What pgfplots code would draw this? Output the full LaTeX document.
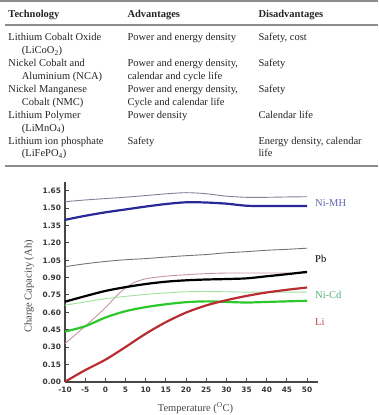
\documentclass[border=0pt]{standalone}
\usepackage{fontspec}
\setmainfont{Liberation Serif}
\newfontfamily\ticfont{DejaVu Sans}
\usepackage{pgfplots}
\pgfplotsset{compat=1.18}

\definecolor{rulegray}{RGB}{140,140,140}
\definecolor{txt}{RGB}{35,35,35}
\definecolor{axisgray}{RGB}{70,70,70}
\definecolor{ticktxt}{RGB}{55,55,55}
\definecolor{nimhthin}{RGB}{135,125,150}
\definecolor{nimh}{RGB}{40,40,150}
\definecolor{pbthin}{RGB}{115,115,125}
\definecolor{pink}{RGB}{195,150,160}
\definecolor{nicdthin}{RGB}{160,225,160}
\definecolor{nicd}{RGB}{45,200,45}
\definecolor{li}{RGB}{185,45,50}
\definecolor{lblnimh}{RGB}{100,100,175}
\definecolor{lblnicd}{RGB}{80,175,120}
\definecolor{lblli}{RGB}{185,70,75}

\begin{document}
\begin{tikzpicture}[x=1pt,y=1pt]
\useasboundingbox (0,0) rectangle (379,-415);

% ---- comparison table ----
\begin{scope}[every node/.style={anchor=base west, inner sep=0pt, text=txt,
    font=\fontsize{10.5}{12}\selectfont}]
  \draw[rulegray, line width=1.8pt] (0,-1) -- (378,-1);
  \draw[rulegray, line width=1.2pt] (5,-25) -- (378,-25);
  \draw[rulegray, line width=1.6pt] (5,-166) -- (378,-166);
  \node at (8.3,-17.5)   {\bfseries Technology};
  \node at (127.3,-17.5) {\bfseries Advantages};
  \node at (258.3,-17.5) {\bfseries Disadvantages};
  % rows
  \node at (8.3,-40.8)   {Lithium Cobalt Oxide};
  \node at (21.7,-53.7)  {(LiCoO\textsubscript{2})};
  \node at (127.3,-40.8) {Power and energy density};
  \node at (258.3,-40.8) {Safety, cost};
  \node at (8.3,-66.6)   {Nickel Cobalt and};
  \node at (21.7,-79.5)  {Aluminium (NCA)};
  \node at (127.3,-66.6) {Power and energy density,};
  \node at (127.3,-79.5) {calendar and cycle life};
  \node at (258.3,-66.6) {Safety};
  \node at (8.3,-92.4)   {Nickel Manganese};
  \node at (21.7,-105.3) {Cobalt (NMC)};
  \node at (127.3,-92.4) {Power and energy density,};
  \node at (127.3,-105.3){Cycle and calendar life};
  \node at (258.3,-92.4) {Safety};
  \node at (8.3,-118.2)  {Lithium Polymer};
  \node at (21.7,-131.1) {(LiMnO\textsubscript{4})};
  \node at (127.3,-118.2){Power density};
  \node at (258.3,-118.2){Calendar life};
  \node at (8.3,-144.0)  {Lithium ion phosphate};
  \node at (21.7,-156.9) {(LiFePO\textsubscript{4})};
  \node at (127.3,-144.0){Safety};
  \node at (258.3,-144.0){Energy density, calendar};
  \node at (258.3,-156.9){life};
\end{scope}

% ---- charge capacity vs temperature ----
\begin{axis}[
  at={(65pt,-381.7pt)}, anchor=south west,
  scale only axis, width=253pt, height=200pt,
  xmin=-10, xmax=52.7, ymin=0, ymax=1.73,
  axis lines=left,
  axis line style={-, line width=1.6pt, color=axisgray},
  xtick={-10,-5,0,5,10,15,20,25,30,35,40,45,50},
  ytick={0,0.15,0.30,0.45,0.60,0.75,0.90,1.05,1.20,1.35,1.50,1.65},
  tick align=inside, major tick length=4pt,
  tick style={line width=1pt, color=axisgray},
  /pgf/number format/assume math mode=true,
  ticklabel style={font=\ticfont\bfseries\fontsize{7.4}{8}\selectfont, text=ticktxt},
  yticklabel style={xshift=-0.5pt, /pgf/number format/.cd, fixed, fixed zerofill, precision=2},
  xticklabel style={yshift=-1.5pt, /pgf/number format/.cd, fixed},
  clip=false,
  every axis plot/.append style={smooth, no marks},
]
% Ni-MH
\addplot[nimhthin, line width=0.9pt] coordinates {(-10,1.557) (-5,1.572) (0,1.584) (5,1.596) (10,1.61) (15,1.625) (20,1.635) (25,1.626) (30,1.605) (35,1.595) (40,1.595) (45,1.598) (50,1.60)};
\addplot[nimh, line width=2.2pt] coordinates {(-10,1.40) (-5,1.435) (0,1.465) (5,1.49) (10,1.515) (15,1.537) (20,1.552) (25,1.55) (30,1.54) (35,1.522) (40,1.52) (45,1.52) (50,1.52)};
% Pb
\addplot[pbthin, line width=0.9pt] coordinates {(-10,0.995) (-5,1.02) (0,1.04) (5,1.055) (10,1.065) (15,1.078) (20,1.09) (25,1.10) (30,1.115) (35,1.125) (40,1.137) (45,1.145) (50,1.155)};
\addplot[pink, line width=0.9pt] coordinates {(-10,0.33) (-5,0.48) (0,0.64) (3,0.75) (5,0.81) (7,0.855) (10,0.89) (15,0.913) (20,0.925) (25,0.935) (30,0.94) (35,0.94) (40,0.94) (45,0.94) (50,0.942)};
\addplot[black, line width=2.2pt] coordinates {(-10,0.692) (-5,0.74) (0,0.785) (5,0.818) (10,0.845) (15,0.865) (20,0.877) (25,0.884) (30,0.888) (35,0.894) (40,0.912) (45,0.93) (50,0.95)};
% Ni-Cd
\addplot[nicdthin, line width=0.9pt] coordinates {(-10,0.662) (-5,0.69) (0,0.718) (5,0.738) (10,0.755) (15,0.768) (20,0.778) (25,0.78) (30,0.778) (35,0.775) (40,0.775) (45,0.775) (50,0.775)};
\addplot[nicd, line width=2.2pt] coordinates {(-10,0.433) (-5,0.48) (0,0.555) (5,0.61) (10,0.645) (15,0.67) (20,0.688) (25,0.695) (30,0.69) (35,0.685) (40,0.69) (45,0.695) (50,0.70)};
% Li
\addplot[li, line width=2.2pt] coordinates {(-10,0) (-5,0.10) (0,0.19) (5,0.30) (10,0.415) (15,0.515) (20,0.598) (25,0.66) (30,0.705) (35,0.742) (40,0.772) (45,0.795) (50,0.815)};
\end{axis}

% curve names
\begin{scope}[every node/.style={anchor=base west, inner sep=0pt,
    font=\fontsize{10.5}{12}\selectfont}]
  \node[text=lblnimh] at (315,-206.5) {Ni-MH};
  \node[text=black]   at (315,-262.8) {Pb};
  \node[text=lblnicd] at (315,-298.5) {Ni-Cd};
  \node[text=lblli]   at (315,-325.2) {Li};
\end{scope}

% axis titles
\node[font=\fontsize{10.5}{12}\selectfont, text=axisgray, rotate=90, inner sep=0pt]
  at (29,-286.5) {Charge Capacity (Ah)};
\node[font=\fontsize{10.5}{12}\selectfont, text=axisgray, inner sep=0pt]
  at (195.5,-408) {Temperature (\textsuperscript{O}C)};
\end{tikzpicture}
\end{document}
